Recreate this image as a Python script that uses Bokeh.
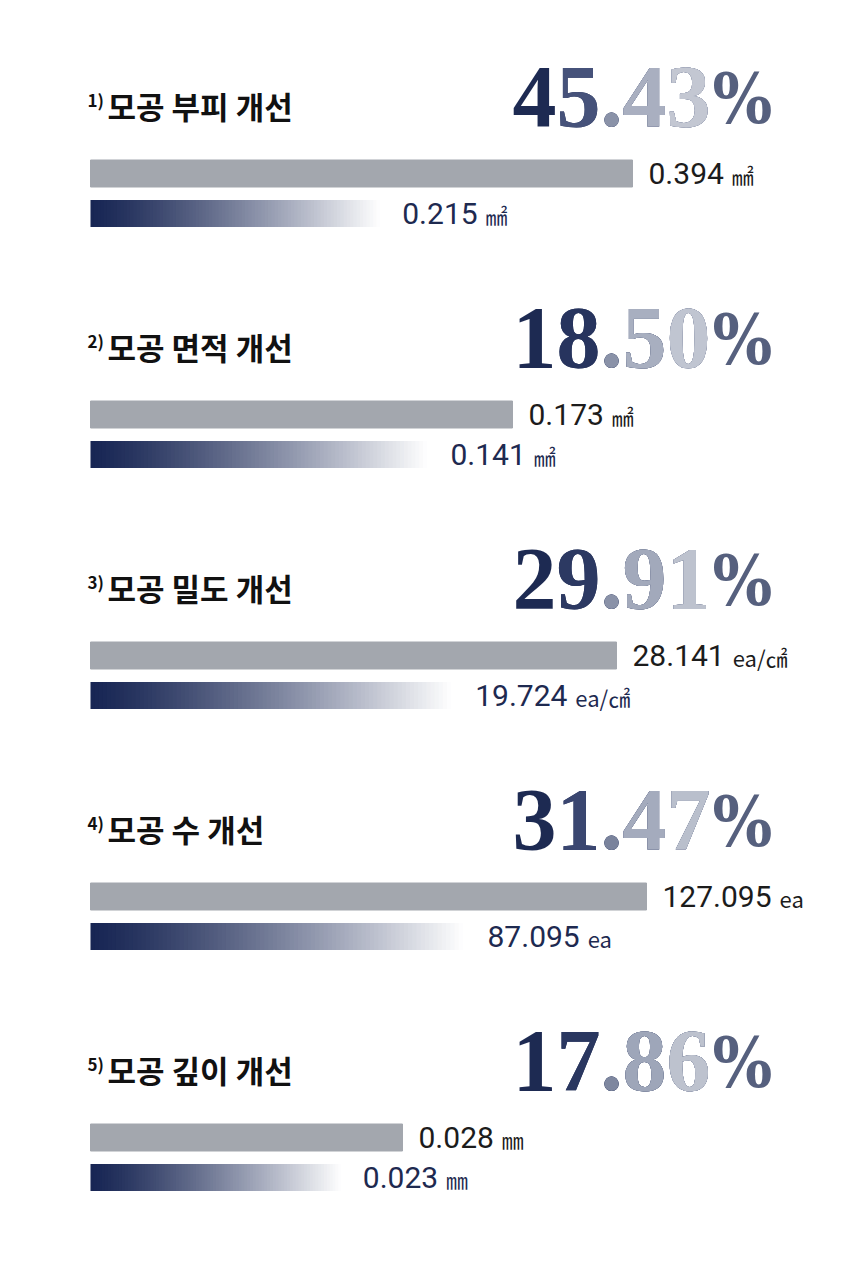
from bokeh.plotting import figure
from bokeh.models import Range1d, Label
from bokeh.layouts import column
from bokeh.embed import file_html
from bokeh.resources import INLINE

# ---------------- data ----------------
item_numbers = ["1)", "2)", "3)", "4)", "5)"]
titles = ["모공 부피 개선", "모공 면적 개선", "모공 밀도 개선", "모공 수 개선", "모공 깊이 개선"]
improvement = ["45.43", "18.50", "29.91", "31.47", "17.86"]
before = [0.394, 0.173, 28.141, 127.095, 0.028]
after = [0.215, 0.141, 19.724, 87.095, 0.023]
before_text = ["0.394", "0.173", "28.141", "127.095", "0.028"]
after_text = ["0.215", "0.141", "19.724", "87.095", "0.023"]
units = ["㎟", "㎟", "ea/㎠", "ea", "㎜"]

# ---------------- layout / style ----------------
W, SEC_H = 860, 241
BAR_X0 = 90                          # px where bars start
BAR_LEN = [542, 422, 526, 556, 312]  # px length of the "before" bar per section
GRAY = "#a3a7ae"
NAVY = (24, 38, 84)
PCT_COLORS = [
    ["#1d2a52", "#46527a", "#8a92a8", "#a9afc0", "#c3c7d2", "#56607e"],
    ["#1d2a52", "#27345e", "#8a92a8", "#a8afc0", "#c0c5d1", "#56607e"],
    ["#1d2a52", "#2c3962", "#8a92a8", "#a2a9bb", "#bdc2ce", "#56607e"],
    ["#1d2a52", "#3a4670", "#7a839c", "#a4abbd", "#b9bfcc", "#56607e"],
    ["#1d2a52", "#2a3760", "#7e879f", "#9ea6b9", "#bdc2ce", "#56607e"],
]
NUM_FONT = "Roboto"
TITLE_FONT = "Noto Sans CJK KR"
CHAR_W = {".": 0.263}


def text_width(s, size):
    return sum(CHAR_W.get(c, 0.562) for c in s) * size


def hexc(rgb):
    return "#%02x%02x%02x" % tuple(int(round(v)) for v in rgb)


def section(i):
    k = before[i] / BAR_LEN[i]
    p = figure(width=W, height=SEC_H, x_range=Range1d(-BAR_X0 * k, (W - BAR_X0) * k),
               y_range=Range1d(SEC_H, 0), output_backend="svg", toolbar_location=None,
               min_border=0, outline_line_color=None, x_axis_location=None,
               y_axis_location=None, background_fill_color="white",
               border_fill_color="white")
    p.grid.visible = False

    y_title, y_pct, y_gray, y_grad, bh = 105, 96, 173, 213, 27

    # title
    p.add_layout(Label(x=87, y=y_title - 6, x_units="screen", text=item_numbers[i],
                       text_font=TITLE_FONT, text_font_style="bold", text_font_size="17px",
                       text_baseline="middle", text_color="#111111"))
    p.add_layout(Label(x=107, y=y_title, x_units="screen", text=titles[i],
                       text_font=TITLE_FONT, text_font_style="bold", text_font_size="31px",
                       text_baseline="middle", text_color="#111111"))

    # big percentage, coloured char by char (suffix overlays, right aligned)
    s = improvement[i]
    cols = PCT_COLORS[i]
    for j in range(len(s)):
        p.add_layout(Label(x=710, y=y_pct, x_units="screen", text=s[j:],
                           text_font="Liberation Serif", text_font_style="bold",
                           text_font_size="88px", text_align="right",
                           text_baseline="middle", text_color=cols[j]))
    p.add_layout(Label(x=712, y=y_pct + 2, x_units="screen", text="%",
                       text_font="DejaVu Serif Condensed", text_font_style="bold",
                       text_font_size="70px", text_align="left",
                       text_baseline="middle", text_color=cols[-1]))

    # before bar
    p.hbar(y=[y_gray], left=[0], right=[before[i]], height=bh, color=GRAY)
    # after bar with gradient (slices)
    n = 90
    lefts, rights, colors = [], [], []
    for j in range(n):
        t = j / (n - 1)
        tt = min(1.0, t ** 1.25 * 1.02)
        rgb = [NAVY[c] + (255 - NAVY[c]) * tt for c in range(3)]
        lefts.append(after[i] * j / n)
        rights.append(min(after[i], after[i] * (j + 1.6) / n))
        colors.append(hexc(rgb))
    p.quad(left=lefts, right=rights, top=[y_grad - bh / 2] * n, bottom=[y_grad + bh / 2] * n,
           color=colors, line_color=None)

    # value labels
    fs = 30
    for val, txt, yy, col in [(before[i], before_text[i], y_gray, "#1c1c1c"),
                               (after[i], after_text[i], y_grad, "#1e2a50")]:
        p.add_layout(Label(x=val, y=yy, x_offset=16, text=txt, text_font=NUM_FONT,
                           text_font_size="%dpx" % fs, text_baseline="middle",
                           text_color=col))
        p.add_layout(Label(x=val, y=yy + 1, x_offset=16 + text_width(txt, fs) + 8,
                           text=units[i], text_font=TITLE_FONT, text_font_size="22px",
                           text_baseline="middle", text_color=col))
    return p


layout = column(*[section(i) for i in range(len(titles))], spacing=0)
open("out.html", "w").write(file_html(layout, INLINE))
